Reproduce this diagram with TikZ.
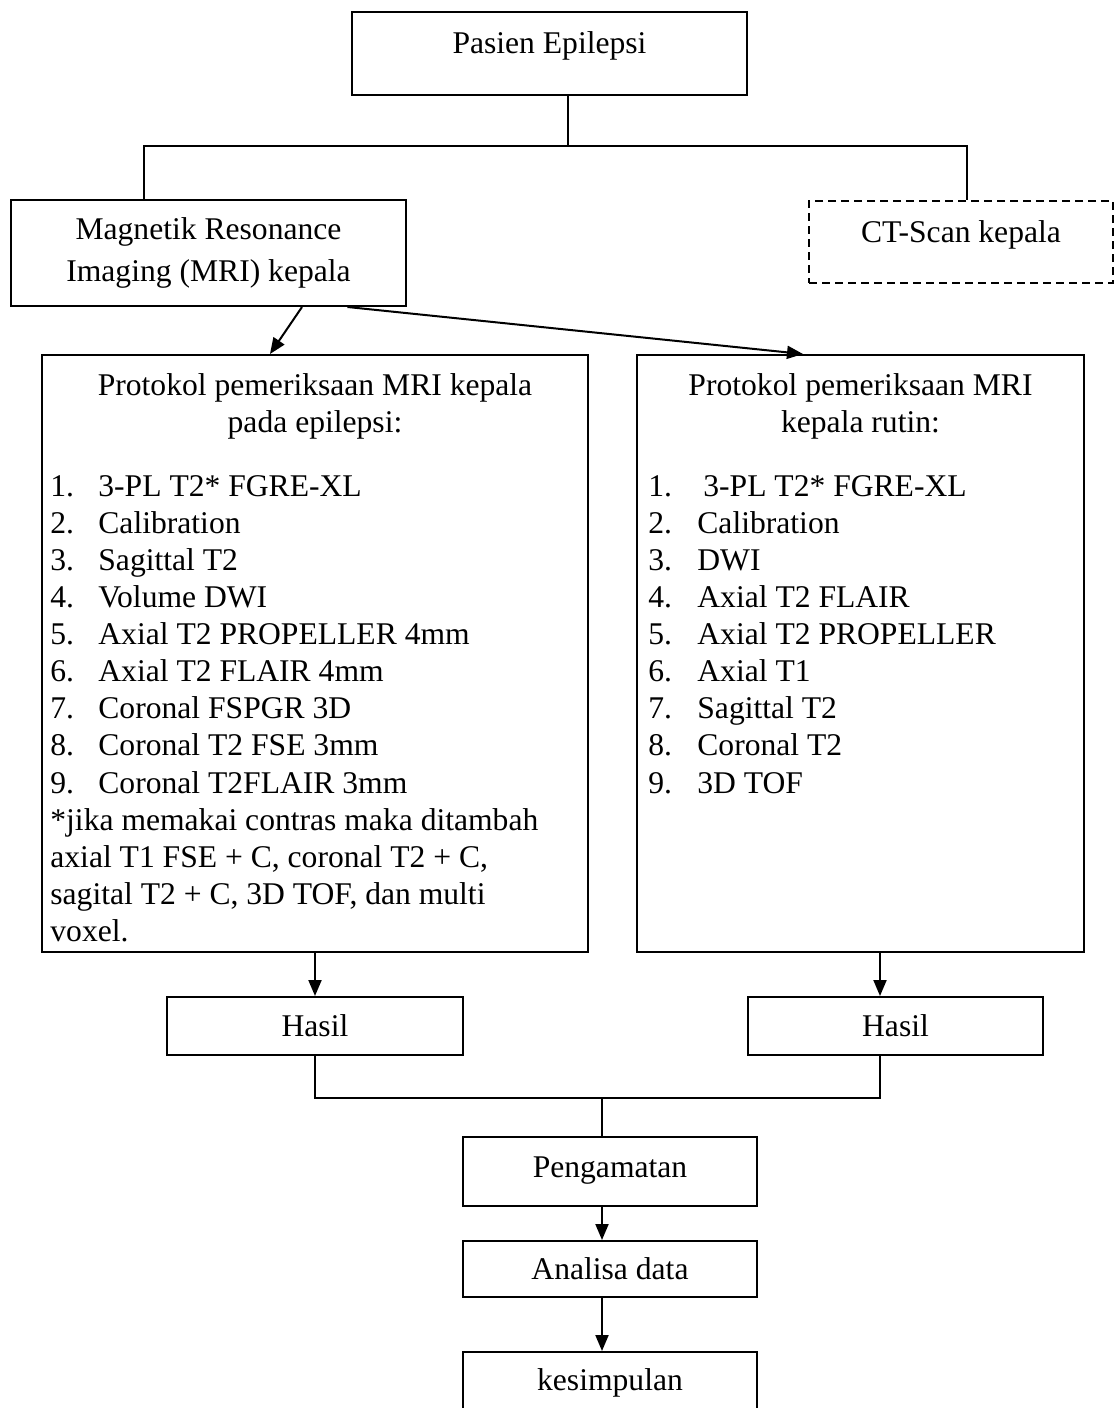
\documentclass[tikz,border=0pt]{standalone}
\usepackage{fontspec}
\setmainfont{Liberation Serif}
\usetikzlibrary{arrows.meta}

\tikzset{
  box/.style={draw, line width=1pt, inner sep=0pt},
  one/.style={text height=10.5pt, text depth=0pt},
  dashbox/.style={box, dash pattern=on 4pt off 2.5pt},
  item/.style={anchor=base west, inner sep=0pt},
  title/.style={anchor=base, inner sep=0pt},
  line/.style={line width=1pt},
  arr/.style={line width=1pt, -{Triangle[length=8pt,width=6.5pt]}},
}

\begin{document}
\begin{tikzpicture}[x=0.5pt, y=-0.5pt, font=\fontsize{15.8}{18.5}\selectfont]
\useasboundingbox (0,0) rectangle (1114,1408);
%\draw[step=50,gray,very thin] (0,0) grid (1114,1408);
% top boxes
\node[box, minimum width=197.5pt, minimum height=41.5pt, text height=8pt, text depth=8pt] (pasien) at (549.5,53.5) {Pasien Epilepsi};
\node[box, align=center, minimum width=197.5pt, minimum height=53pt, font=\fontsize{15.8}{21}\selectfont] (mri) at (208.5,253) {Magnetik Resonance\\Imaging (MRI) kepala};
\node[dashbox, minimum width=152pt, minimum height=41pt, text height=8pt, text depth=8pt] (ct) at (961,242) {CT-Scan kepala};
\coordinate (split) at (568,146);
\draw[line] ([xshift=9.25pt]pasien.south) -- (split);
\draw[line] ([xshift=-32.25pt]mri.north) |- (split) -| ([xshift=3pt]ct.north);
% protocol boxes
\node[box, minimum width=273pt, minimum height=298.5pt] (protL) at (315,653.5) {};
\node[box, minimum width=223.5pt, minimum height=298.5pt] (protR) at (860.5,653.5) {};
\draw[arr] ([xshift=46.75pt]mri.south) -- ([xshift=-22.5pt]protL.north);
\draw[arr] ([xshift=69.5pt]mri.south) -- ([xshift=-28.75pt]protR.north);
\node[title] (protLa) at (315,395) {Protokol pemeriksaan MRI kepala};
\node[title] (protLb) at (315,432) {pada epilepsi:};
\node[title] (protRa) at (860.5,395) {Protokol pemeriksaan MRI};
\node[title] (protRb) at (860.5,432) {kepala rutin:};
\foreach \no/\txt in {1/3-PL T2* FGRE-XL, 2/Calibration, 3/Sagittal T2, 4/Volume DWI,
    5/Axial T2 PROPELLER 4mm, 6/Axial T2 FLAIR 4mm, 7/Coronal FSPGR 3D,
    8/Coronal T2 FSE 3mm, 9/Coronal T2FLAIR 3mm}{
  \node[item] (numL\no) at (50,{496.2+37.1*(\no-1)}) {\no.};
  \node[item] (itemL\no) at (98,{496.2+37.1*(\no-1)}) {\txt};
}
\foreach \txt [count=\no from 10] in {*jika memakai contras maka ditambah,
    {axial T1 FSE + C, coronal T2 + C,}, {sagital T2 + C, 3D TOF, dan multi}, voxel.}{
  \node[item] (noteL\no) at (50,{496.2+37.1*(\no-1)}) {\txt};
}
\foreach \no/\txt in {1/\hspace{3pt}3-PL T2* FGRE-XL, 2/Calibration, 3/DWI, 4/Axial T2 FLAIR,
    5/Axial T2 PROPELLER, 6/Axial T1, 7/Sagittal T2, 8/Coronal T2, 9/3D TOF}{
  \node[item] (numR\no) at (648,{496.2+37.1*(\no-1)}) {\no.};
  \node[item] (itemR\no) at (697,{496.2+37.1*(\no-1)}) {\txt};
}
% results
\node[box, one, minimum width=148pt, minimum height=29pt] (hasilL) at (315,1026) {Hasil};
\node[box, one, minimum width=147.5pt, minimum height=29pt] (hasilR) at (895.5,1026) {Hasil};
\draw[arr] (protL.south) -- (hasilL.north);
\draw[arr] ([xshift=9.75pt]protR.south) -- ([xshift=-7.75pt]hasilR.north);
% bottom chain
\node[box, one, minimum width=147pt, minimum height=34.5pt, text depth=5pt] (peng) at (610,1171.5) {Pengamatan};
\node[box, one, minimum width=147pt, minimum height=28pt] (analisa) at (610,1269) {Analisa data};
\node[box, one, minimum width=147pt, minimum height=32pt, text depth=4pt] (kesimpulan) at (610,1384) {kesimpulan};
\coordinate (merge) at (602,1098);
\draw[line] (hasilL.south) |- (merge) -| ([xshift=-7.75pt]hasilR.south);
\draw[line] (merge) -- (merge |- peng.north);
\draw[arr] ([xshift=-4pt]peng.south) -- ([xshift=-4pt]analisa.north);
\draw[arr] ([xshift=-4pt]analisa.south) -- ([xshift=-4pt]kesimpulan.north);
\end{tikzpicture}
\end{document}
